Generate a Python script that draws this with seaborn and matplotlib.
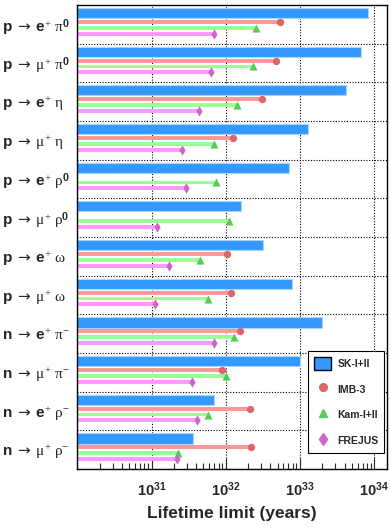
import numpy as np
import pandas as pd
import matplotlib
matplotlib.use("Agg")
import matplotlib.pyplot as plt
import seaborn as sns
from matplotlib.lines import Line2D
from matplotlib.patches import Patch
from matplotlib.ticker import LogLocator, NullFormatter, FixedLocator

modes = [
    r"$\mathbf{p}\ \mathsf{\rightarrow}\ \mathbf{e}^{+}\ \mathrm{\pi}^{\mathbf{0}}$",
    r"$\mathbf{p}\ \mathsf{\rightarrow}\ \mathrm{\mu}^{+}\ \mathrm{\pi}^{\mathbf{0}}$",
    r"$\mathbf{p}\ \mathsf{\rightarrow}\ \mathbf{e}^{+}\ \mathrm{\eta}$",
    r"$\mathbf{p}\ \mathsf{\rightarrow}\ \mathrm{\mu}^{+}\ \mathrm{\eta}$",
    r"$\mathbf{p}\ \mathsf{\rightarrow}\ \mathbf{e}^{+}\ \mathrm{\rho}^{\mathbf{0}}$",
    r"$\mathbf{p}\ \mathsf{\rightarrow}\ \mathrm{\mu}^{+}\ \mathrm{\rho}^{\mathbf{0}}$",
    r"$\mathbf{p}\ \mathsf{\rightarrow}\ \mathbf{e}^{+}\ \mathrm{\omega}$",
    r"$\mathbf{p}\ \mathsf{\rightarrow}\ \mathrm{\mu}^{+}\ \mathrm{\omega}$",
    r"$\mathbf{n}\ \mathsf{\rightarrow}\ \mathbf{e}^{+}\ \mathrm{\pi}^{-}$",
    r"$\mathbf{n}\ \mathsf{\rightarrow}\ \mathrm{\mu}^{+}\ \mathrm{\pi}^{-}$",
    r"$\mathbf{n}\ \mathsf{\rightarrow}\ \mathbf{e}^{+}\ \mathrm{\rho}^{-}$",
    r"$\mathbf{n}\ \mathsf{\rightarrow}\ \mathrm{\mu}^{+}\ \mathrm{\rho}^{-}$",
]
sk = [8.2e33, 6.6e33, 4.2e33, 1.3e33, 7.1e32, 1.6e32, 3.2e32, 7.8e32, 2.0e33, 1.0e33, 7.0e31, 3.6e31]
imb = [5.4e32, 4.7e32, 3.1e32, 1.26e32, np.nan, np.nan, 1.05e32, 1.17e32, 1.57e32, 8.9e31, 2.1e32, 2.2e32]
kam = [2.6e32, 2.3e32, 1.4e32, 6.9e31, 7.5e31, 1.1e32, 4.5e31, 5.7e31, 1.3e32, 1.0e32, 5.7e31, 2.3e31]
frejus = [7.0e31, 6.4e31, 4.4e31, 2.6e31, 2.9e31, 1.2e31, 1.7e31, 1.1e31, 7.0e31, 3.5e31, 4.1e31, 2.2e31]

XMIN, XMAX = 1e30, 1.5e34

sns.set_theme(style="ticks")
plt.rcParams["font.family"] = ["Liberation Sans", "DejaVu Sans"]
plt.rcParams["mathtext.fontset"] = "custom"
plt.rcParams["mathtext.rm"] = "Liberation Serif"
plt.rcParams["mathtext.bf"] = "Liberation Sans:bold"
plt.rcParams["mathtext.it"] = "Liberation Serif:italic"
plt.rcParams["mathtext.sf"] = "DejaVu Sans"

fig = plt.figure(figsize=(3.91, 5.27), dpi=100)
ax = fig.add_axes([0.198, 0.11, 0.792, 0.8805])
ax.set_xscale("log")

sk_df = pd.DataFrame({"mode": modes, "limit": sk})
sns.barplot(data=sk_df, x="limit", y="mode", orient="h", width=0.26, color="#3399ff",
            saturation=1, edgecolor="#a8d4ff", linewidth=0.8, ax=ax)

pos = np.arange(len(modes))
others = [
    ("IMB-3", imb, 0.23, "#ff9999", "#dd6666", "o", 28),
    ("Kam-I+II", kam, 0.38, "#99ff99", "#55cc55", "^", 34),
    ("FREJUS", frejus, 0.53, "#ff99ff", "#cc66cc", "d", 28),
]
for name, vals, off, bar_col, mk_col, mk, size in others:
    vals = np.array(vals)
    ok = ~np.isnan(vals)
    ax.barh(pos[ok] + off, vals[ok] - XMIN, left=XMIN, height=0.1, color=bar_col, linewidth=0)
    pts = pd.DataFrame({"x": vals[ok], "y": pos[ok] + off})
    sns.scatterplot(data=pts, x="x", y="y", marker=mk, s=size, color=mk_col,
                    linewidth=0, ax=ax, zorder=3)

# dotted group separators and decade lines
for b in pos[:-1] + 0.79:
    ax.axhline(b, color="black", ls=(0, (1, 1.5)), lw=0.8, zorder=0)
for d in [1e31, 1e32, 1e33, 1e34]:
    ax.axvline(d, color="black", ls=(0, (1, 1.5)), lw=0.8, zorder=0)

ax.set_xlim(XMIN, XMAX)
ax.set_ylim(len(modes) - 0.21, -0.21)
ax.set_yticks(pos + 0.29)
ax.set_yticklabels(modes, fontsize=11, ha="left")
ax.tick_params(axis="y", length=0, pad=54)

ax.xaxis.set_major_locator(FixedLocator([1e31, 1e32, 1e33, 1e34]))
ax.set_xticklabels([r"$\mathbf{10^{%d}}$" % e for e in [31, 32, 33, 34]], fontsize=10.5)
ax.xaxis.set_minor_locator(LogLocator(base=10, subs=np.arange(2, 10)))
ax.xaxis.set_minor_formatter(NullFormatter())
ax.tick_params(axis="x", which="major", direction="in", length=8, width=0.8, pad=8)
ax.tick_params(axis="x", which="minor", direction="in", length=4, width=0.8)
for s in ax.spines.values():
    s.set_linewidth(1.0)
    s.set_color("black")

ax.set_xlabel("Lifetime limit (years)", fontsize=12.5, fontweight="bold", labelpad=5)
ax.set_ylabel("")

handles = [
    Patch(facecolor="#3399ff", edgecolor="black", linewidth=1.0),
    Line2D([], [], ls="", marker="o", color="#dd6666", markersize=5.5),
    Line2D([], [], ls="", marker="^", color="#55cc55", markersize=6),
    Line2D([], [], ls="", marker="d", color="#cc66cc", markersize=6),
]
leg = ax.legend(handles, ["SK-I+II", "IMB-3", "Kam-I+II", "FREJUS"], loc="lower right",
                bbox_to_anchor=(0.99, 0.035), prop={"weight": "bold", "size": 7.5},
                frameon=True, fancybox=False, edgecolor="black", framealpha=1,
                labelspacing=1.2, handlelength=1.7, borderpad=0.5, handleheight=1.6,
                handletextpad=0.6, borderaxespad=0)
leg.get_frame().set_linewidth(0.8)

fig.savefig("out.png", dpi=100)
